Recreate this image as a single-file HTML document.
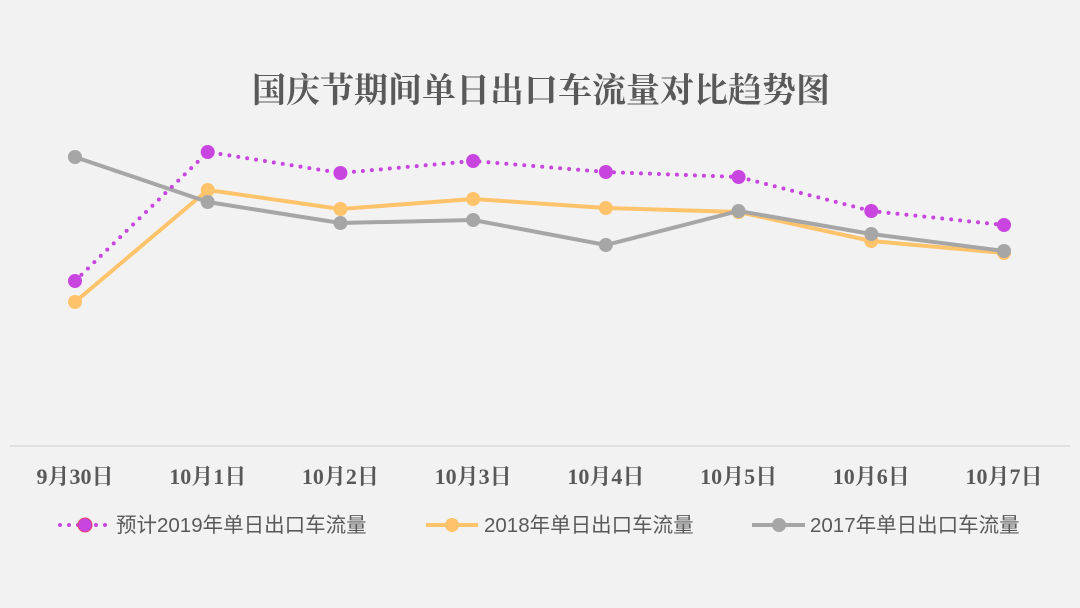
<!DOCTYPE html>
<html><head><meta charset="utf-8">
<style>
body{margin:0;background:#f2f2f2;}
svg{display:block;}
.t{font-family:"Liberation Serif","Noto Serif CJK SC",serif;font-weight:bold;fill:#595959;}
.l{font-family:"Liberation Sans","Noto Sans CJK SC",sans-serif;fill:#595959;font-size:20.5px;}
</style></head>
<body>
<svg id="c" width="1080" height="608">
<rect width="1080" height="608" fill="#f2f2f2"/>
<text class="t" x="541" y="102" font-size="34" font-weight="600" text-anchor="middle">国庆节期间单日出口车流量对比趋势图</text>
<line x1="10" y1="446" x2="1070" y2="446" stroke="#d9d9d9" stroke-width="1.5"/>
<g id="xl"></g>
<g id="series"></g>
<g>
 <g>
  <line x1="60" y1="525" x2="108" y2="525" stroke="#c845e0" stroke-width="4" stroke-dasharray="0 9" stroke-linecap="round"/>
  <circle cx="85" cy="525" r="7" fill="#c845e0" stroke="#e0406a" stroke-width="1"/>
  <text class="l" x="116" y="532">预计2019年单日出口车流量</text>
 </g>
 <g>
  <line x1="426" y1="525" x2="478" y2="525" stroke="#ffc36b" stroke-width="4"/>
  <circle cx="452" cy="525" r="7" fill="#ffc36b"/>
  <text class="l" x="484" y="532">2018年单日出口车流量</text>
 </g>
 <g>
  <line x1="752" y1="525" x2="805" y2="525" stroke="#a6a6a6" stroke-width="4"/>
  <circle cx="779" cy="525" r="7" fill="#a6a6a6"/>
  <text class="l" x="810" y="532">2017年单日出口车流量</text>
 </g>
</g>
</svg>
<script>
const categories=["9月30日","10月1日","10月2日","10月3日","10月4日","10月5日","10月6日","10月7日"];
const s2019=[16.5,29.4,27.3,28.5,27.4,26.9,23.5,22.1];
const s2018=[14.4,25.6,23.7,24.7,23.8,23.4,20.5,19.3];
const s2017=[28.9,24.4,22.3,22.6,20.1,23.5,21.2,19.5];
const NS="http://www.w3.org/2000/svg";
function xS(i){return 75+i*(1004-75)/(categories.length-1);}
function yS(v){return 446-v*10;}
const xl=document.getElementById('xl');
categories.forEach((c,i)=>{
 const t=document.createElementNS(NS,'text');
 t.setAttribute('class','t');t.setAttribute('x',xS(i));t.setAttribute('y',484);
 t.setAttribute('font-size','22');t.setAttribute('text-anchor','middle');
 
 
 t.textContent=c;xl.appendChild(t);
});
const g=document.getElementById('series');
function draw(vals,color,dash,name){
 const grp=document.createElementNS(NS,'g');
 
 
 const p=document.createElementNS(NS,'polyline');
 p.setAttribute('points',vals.map((v,i)=>xS(i)+','+yS(v)).join(' '));
 p.setAttribute('fill','none');p.setAttribute('stroke',color);p.setAttribute('stroke-width','4');
 p.setAttribute('stroke-linejoin','round');
 if(dash){p.setAttribute('stroke-dasharray','0 9');p.setAttribute('stroke-linecap','round');}
 
 
 grp.appendChild(p);
 vals.forEach((v,i)=>{
  const c=document.createElementNS(NS,'circle');
  c.setAttribute('cx',xS(i));c.setAttribute('cy',yS(v));c.setAttribute('r','7');c.setAttribute('fill',color);
  
  
  grp.appendChild(c);
 });
 g.appendChild(grp);
}
draw(s2018,'#ffc36b',false,'series-2018');
draw(s2017,'#a6a6a6',false,'series-2017');
draw(s2019,'#c845e0',true,'series-2019');
</script>
</body></html>
